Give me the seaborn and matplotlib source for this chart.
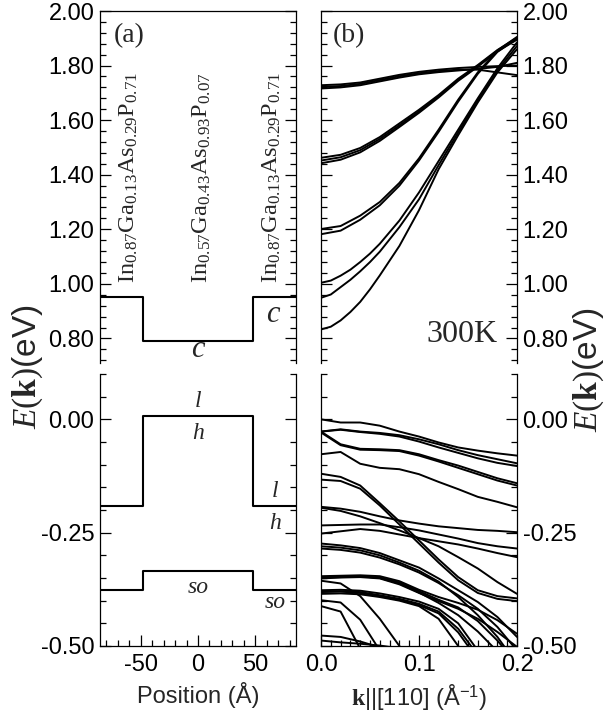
import matplotlib
matplotlib.use("Agg")
import matplotlib.pyplot as plt
from matplotlib.ticker import MultipleLocator, FormatStrFormatter, FixedLocator
import numpy as np
import pandas as pd
import seaborn as sns

sns.set_theme(style="ticks")
plt.rcParams["font.family"] = ["Liberation Sans", "DejaVu Sans"]
plt.rcParams["axes.unicode_minus"] = False
plt.rcParams["mathtext.fontset"] = "custom"
plt.rcParams["mathtext.rm"] = "Liberation Serif"
plt.rcParams["mathtext.it"] = "Liberation Serif:italic"
plt.rcParams["mathtext.bf"] = "Liberation Serif:bold"
plt.rcParams["mathtext.sf"] = "Liberation Sans"

# ---------------- data ----------------
# panel (a): band-edge profile (layer boundaries in Angstrom)
layer_pos = [-85.5, -48.0, 48.0, 85.5]
cb_edge = [0.953, 0.790, 0.953, 0.953]
vb_edge = [-0.192, 0.008, -0.192, -0.192]
so_edge = [-0.376, -0.335, -0.376, -0.376]
layer_labels = [r"In$_{0.87}$Ga$_{0.13}$As$_{0.29}$P$_{0.71}$",
                r"In$_{0.57}$Ga$_{0.43}$As$_{0.93}$P$_{0.07}$",
                r"In$_{0.87}$Ga$_{0.13}$As$_{0.29}$P$_{0.71}$"]

# panel (b): subband dispersion, k along [110] (1/Angstrom)
k_vals = [0.00, 0.02, 0.04, 0.06, 0.08, 0.10, 0.12, 0.14, 0.16, 0.18, 0.20]
k_fine = [0.00, 0.01, 0.02, 0.03, 0.04, 0.05, 0.06, 0.08, 0.10, 0.12, 0.14, 0.16, 0.18, 0.20]

# conduction subbands (eV); the three lowest are read on the finer k grid
c01 = [0.833, 0.843, 0.866, 0.897, 0.934, 0.980, 1.031, 1.139, 1.270, 1.420, 1.545, 1.665, 1.775, 1.860]
c02 = [0.949, 0.961, 0.988, 1.015, 1.046, 1.080, 1.118, 1.208, 1.310, 1.435, 1.555, 1.672, 1.782, 1.872]
c03 = [1.004, 1.012, 1.030, 1.052, 1.080, 1.111, 1.147, 1.232, 1.335, 1.450, 1.565, 1.680, 1.790, 1.885]
c04 = [1.201, 1.212, 1.250, 1.300, 1.370, 1.460, 1.565, 1.675, 1.775, 1.855, 1.905]
c05 = [1.182, 1.195, 1.235, 1.288, 1.360, 1.452, 1.557, 1.668, 1.770, 1.850, 1.900]
c06 = [1.462, 1.473, 1.498, 1.538, 1.588, 1.638, 1.692, 1.752, 1.802, 1.857, 1.902]
c07 = [1.452, 1.464, 1.490, 1.531, 1.581, 1.632, 1.687, 1.748, 1.799, 1.854, 1.898]
c08 = [1.442, 1.455, 1.482, 1.524, 1.575, 1.627, 1.683, 1.744, 1.796, 1.852, 1.895]
c09 = [1.728, 1.731, 1.738, 1.752, 1.766, 1.777, 1.785, 1.791, 1.795, 1.798, 1.800]
c10 = [1.722, 1.725, 1.733, 1.747, 1.761, 1.772, 1.780, 1.785, 1.785, 1.775, 1.765]
c11 = [1.716, 1.720, 1.728, 1.742, 1.756, 1.768, 1.776, 1.782, 1.788, 1.795, 1.810]

# valence subbands (eV); nan = already far below the frame
nan = np.nan
v01 = [0.000, -0.007, -0.007, -0.014, -0.027, -0.038, -0.051, -0.062, -0.069, -0.075, -0.080]
v02 = [-0.027, -0.022, -0.027, -0.030, -0.035, -0.044, -0.055, -0.068, -0.079, -0.088, -0.097]
v03 = [-0.027, -0.023, -0.028, -0.032, -0.038, -0.049, -0.062, -0.074, -0.086, -0.096, -0.103]
v04 = [-0.027, -0.055, -0.065, -0.066, -0.068, -0.077, -0.090, -0.102, -0.116, -0.130, -0.141]
v05 = [-0.029, -0.057, -0.067, -0.068, -0.070, -0.080, -0.093, -0.107, -0.121, -0.135, -0.146]
v06 = [-0.077, -0.072, -0.098, -0.107, -0.110, -0.121, -0.138, -0.154, -0.171, -0.182, -0.194]
v07 = [-0.120, -0.127, -0.146, -0.185, -0.225, -0.267, -0.309, -0.348, -0.377, -0.390, -0.395]
v08 = [-0.133, -0.136, -0.153, -0.190, -0.232, -0.274, -0.316, -0.355, -0.383, -0.396, -0.401]
v09 = [-0.193, -0.197, -0.204, -0.214, -0.223, -0.230, -0.236, -0.240, -0.244, -0.246, -0.249]
v10 = [-0.195, -0.202, -0.214, -0.229, -0.245, -0.262, -0.280, -0.304, -0.329, -0.359, -0.385]
v11 = [-0.234, -0.233, -0.232, -0.232, -0.238, -0.245, -0.254, -0.263, -0.273, -0.280, -0.285]
v12 = [-0.252, -0.247, -0.242, -0.246, -0.254, -0.262, -0.269, -0.276, -0.285, -0.295, -0.304]
v13 = [-0.274, -0.278, -0.284, -0.295, -0.311, -0.327, -0.351, -0.377, -0.403, -0.436, -0.480]
v14 = [-0.285, -0.288, -0.294, -0.305, -0.320, -0.338, -0.361, -0.388, -0.418, -0.458, -0.510]
v15 = [-0.346, -0.345, -0.344, -0.346, -0.357, -0.376, -0.392, -0.405, -0.420, -0.443, -0.473]
v16 = [-0.351, -0.349, -0.348, -0.351, -0.364, -0.383, -0.401, -0.418, -0.440, -0.469, -0.502]
v17 = [-0.377, -0.376, -0.378, -0.384, -0.392, -0.402, -0.418, -0.450, -0.510, -0.580, -0.650]
v18 = [-0.385, -0.384, -0.386, -0.392, -0.400, -0.412, -0.440, -0.500, -0.570, -0.640, nan]
v19 = [-0.381, -0.380, -0.383, -0.390, -0.398, -0.410, -0.428, -0.470, -0.530, -0.600, nan]
v20 = [-0.356, -0.362, -0.390, -0.440, -0.500, -0.560, nan, nan, nan, nan, nan]
v21 = [-0.399, -0.404, -0.442, -0.510, -0.600, nan, nan, nan, nan, nan, nan]
v22 = [-0.412, -0.424, -0.506, -0.600, nan, nan, nan, nan, nan, nan, nan]
v23 = [-0.477, -0.480, -0.490, -0.503, -0.520, nan, nan, nan, nan, nan, nan]
v24 = [-0.488, -0.492, -0.495, -0.499, -0.505, nan, nan, nan, nan, nan, nan]
v25 = [-0.280, -0.283, -0.289, -0.300, -0.316, -0.334, -0.358, -0.392, -0.432, -0.480, -0.540]
v26 = [-0.348, -0.347, -0.346, -0.350, -0.362, -0.382, -0.405, -0.432, -0.468, -0.512, nan]
v27 = [-0.380, -0.379, -0.381, -0.388, -0.396, -0.407, -0.424, -0.462, -0.520, -0.590, nan]
v28 = [-0.349, -0.348, -0.347, -0.349, -0.360, -0.379, -0.398, -0.415, -0.445, -0.488, -0.540]

cond_fine = [c01, c02, c03]
cond_curves = [c04, c05, c06, c07, c08, c09, c10, c11]
val_curves = [v01, v02, v03, v04, v05, v06, v07, v08, v09, v10, v11, v12, v13, v14,
              v15, v16, v17, v18, v19, v20, v21, v22, v23, v24, v25, v26, v27, v28]


def long_frame(curves, kgrid, start=0):
    rows = []
    for i, c in enumerate(curves):
        for k, e in zip(kgrid, c):
            if not np.isnan(e):
                rows.append({"k": k, "E": e, "curve": start + i})
    return pd.DataFrame(rows)


df_cond = pd.concat([long_frame(cond_fine, k_fine, 0),
                     long_frame(cond_curves, k_vals, 100)], ignore_index=True)
df_val = long_frame(val_curves, k_vals)

# ---------------- figure ----------------
W, H = 605, 717
fig = plt.figure(figsize=(W / 100, H / 100), dpi=100)


def px_axes(x0, y0, x1, y1):
    return fig.add_axes([x0 / W, 1 - y1 / H, (x1 - x0) / W, (y1 - y0) / H])


axUL = px_axes(100, 11, 296, 363)
axLL = px_axes(100, 374, 296, 646)
axUR = px_axes(321, 11, 517, 363)
axLR = px_axes(321, 374, 517, 646)

LW = 1.5
for ax, y in [(axUL, cb_edge), (axLL, vb_edge), (axLL, so_edge)]:
    sns.lineplot(x=layer_pos, y=y, ax=ax, color="black", lw=LW,
                 drawstyle="steps-post", estimator=None)

sns.lineplot(data=df_cond, x="k", y="E", units="curve", estimator=None,
             color="black", lw=1.4, ax=axUR)
sns.lineplot(data=df_val, x="k", y="E", units="curve", estimator=None,
             color="black", lw=1.4, ax=axLR)

TICKFS = 17
for ax in (axUL, axLL, axUR, axLR):
    ax.set_xlabel("")
    ax.set_ylabel("")
    for s in ax.spines.values():
        s.set_color("black")
        s.set_linewidth(0.9)
    ax.tick_params(axis="y", which="both", direction="in", left=True, right=True,
                   colors="black", labelsize=TICKFS, pad=4)
    ax.tick_params(axis="y", which="major", length=8, width=0.9)
    ax.tick_params(axis="y", which="minor", length=4, width=0.9)

for ax in (axUL, axLL):
    ax.set_xlim(-85.5, 85.5)
    ax.tick_params(axis="y", labelleft=True, labelright=False)
for ax in (axUR, axLR):
    ax.set_xlim(0.0, 0.2)
    ax.tick_params(axis="y", labelleft=False, labelright=True)

for ax in (axUL, axUR):
    ax.set_ylim(0.71, 2.0)
    ax.yaxis.set_major_locator(FixedLocator([0.8, 1.0, 1.2, 1.4, 1.6, 1.8, 2.0]))
    ax.yaxis.set_minor_locator(MultipleLocator(0.04))
    ax.yaxis.set_major_formatter(FormatStrFormatter("%.2f"))
    ax.spines["bottom"].set_visible(False)
    ax.tick_params(axis="x", which="both", bottom=False, top=False,
                   labelbottom=False)

for ax in (axLL, axLR):
    ax.set_ylim(-0.5, 0.1)
    ax.yaxis.set_major_locator(FixedLocator([-0.5, -0.25, 0.0]))
    ax.yaxis.set_minor_locator(MultipleLocator(0.05))
    ax.yaxis.set_major_formatter(FormatStrFormatter("%.2f"))
    ax.spines["top"].set_visible(False)
    ax.tick_params(axis="x", which="both", direction="in", bottom=True, top=False,
                   colors="black", labelsize=TICKFS, pad=6)
    ax.tick_params(axis="x", which="major", length=8, width=0.9)
    ax.tick_params(axis="x", which="minor", length=4, width=0.9)

axLL.xaxis.set_major_locator(FixedLocator([-50, 0, 50]))
axLL.xaxis.set_minor_locator(MultipleLocator(10))
axLR.xaxis.set_major_locator(FixedLocator([0.0, 0.1, 0.2]))
axLR.xaxis.set_minor_locator(MultipleLocator(0.01))
axLR.xaxis.set_major_formatter(FormatStrFormatter("%.1f"))

axLL.set_xlabel("Position (Å)", fontsize=17, labelpad=4)
axLR.set_xlabel(r"$\mathbf{k}$||[110] (Å$^{\mathsf{-1}}$)", fontsize=17, labelpad=4)

# panel texts
SERIF = "Liberation Serif"
axUL.text(-73.5, 1.955, "(a)", fontsize=20, family=SERIF, va="top", ha="left")
axUR.text(0.012, 1.955, "(b)", fontsize=20, family=SERIF, va="top", ha="left")
axUR.text(0.18, 0.787, "300K", fontsize=23, family=SERIF, va="baseline", ha="right")

for xpos, lab in zip([-60, 3.5, 64], layer_labels):
    axUL.text(xpos, 1.003, lab, rotation=90, fontsize=17.5, family=SERIF,
              ha="center", va="bottom")

ITFS = 17
axUL.text(65, 0.862, "c", fontsize=22, family=SERIF, style="italic", ha="center", va="baseline")
axUL.text(0, 0.733, "c", fontsize=22, family=SERIF, style="italic", ha="center", va="baseline")
axLL.text(0, 0.040, "l", fontsize=ITFS, family=SERIF, style="italic", ha="center", va="center")
axLL.text(0, -0.031, "h", fontsize=ITFS, family=SERIF, style="italic", ha="center", va="center")
axLL.text(67.5, -0.160, "l", fontsize=ITFS, family=SERIF, style="italic", ha="center", va="center")
axLL.text(67.5, -0.230, "h", fontsize=ITFS, family=SERIF, style="italic", ha="center", va="center")
axLL.text(0, -0.370, "so", fontsize=ITFS, family=SERIF, style="italic", ha="center", va="center")
axLL.text(67.5, -0.403, "so", fontsize=ITFS, family=SERIF, style="italic", ha="center", va="center")

ylab = r"$\mathit{E}(\mathbf{k})$(eV)"
fig.text(28 / W, 1 - 367 / H, ylab, rotation=90, fontsize=24,
         ha="center", va="center")
fig.text(589 / W, 1 - 370 / H, ylab, rotation=90, fontsize=24,
         ha="center", va="center")

fig.savefig("out.png", dpi=100)
